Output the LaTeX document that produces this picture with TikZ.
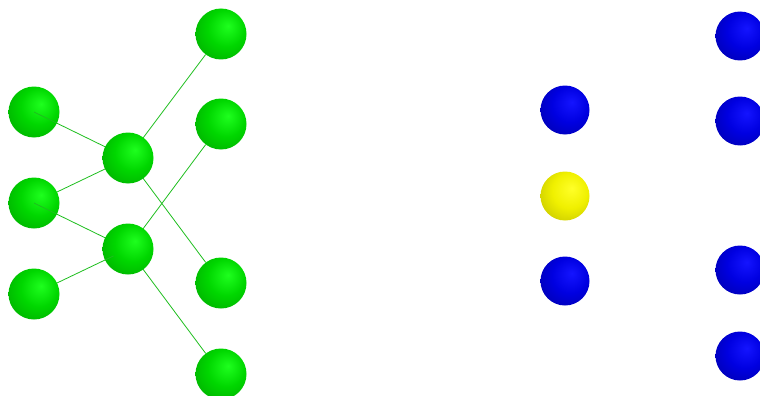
\documentclass[tikz,border=0pt]{standalone}
\usetikzlibrary{calc,backgrounds}
\pgfdeclarelayer{mid}
\pgfsetlayers{background,mid,main}
\definecolor{gA}{RGB}{30,255,30}
\definecolor{gB}{RGB}{0,215,0}
\definecolor{gC}{RGB}{0,160,0}
\definecolor{gD}{RGB}{0,110,0}
\definecolor{bA}{RGB}{20,20,255}
\definecolor{bB}{RGB}{0,0,225}
\definecolor{bC}{RGB}{0,0,160}
\definecolor{bD}{RGB}{0,0,100}
\definecolor{yA}{RGB}{255,255,40}
\definecolor{yB}{RGB}{240,240,0}
\definecolor{yC}{RGB}{185,185,0}
\definecolor{yD}{RGB}{130,130,0}
\definecolor{lineg}{RGB}{30,190,30}
\pgfdeclareradialshading{gball}{\pgfpoint{7bp}{8bp}}{color(0bp)=(gA); color(18bp)=(gB); color(42bp)=(gC); color(62bp)=(gD)}
\pgfdeclareradialshading{bball}{\pgfpoint{7bp}{8bp}}{color(0bp)=(bA); color(18bp)=(bB); color(42bp)=(bC); color(62bp)=(bD)}
\pgfdeclareradialshading{yball}{\pgfpoint{7bp}{8bp}}{color(0bp)=(yA); color(18bp)=(yB); color(42bp)=(yC); color(62bp)=(yD)}
\tikzset{
  gsph/.style={circle,inner sep=0pt,minimum size=51pt,shading=gball},
  bsph/.style={circle,inner sep=0pt,minimum size=49pt,shading=bball},
  ysph/.style={circle,inner sep=0pt,minimum size=49pt,shading=yball},
  gline/.style={draw=lineg,line width=0.8pt}
}
\begin{document}
\begin{tikzpicture}[x=1pt,y=-1pt]
\useasboundingbox (0,0) rectangle (760,396);
\begin{pgfonlayer}{background}
\node[gsph] (L1) at (34,112) {};
\node[gsph] (L2) at (34,203) {};
\node[gsph] (L3) at (34,294) {};
\end{pgfonlayer}
\node[gsph] (M1) at (128,158) {};
\node[gsph] (M2) at (128,249) {};
\node[gsph] (R1) at (221,34) {};
\node[gsph] (R2) at (221,124) {};
\node[gsph] (R3) at (221,283) {};
\node[gsph] (R4) at (221,374) {};
\node[bsph] (B1) at (565,110) {};
\node[ysph] (Y1) at (565,196) {};
\node[bsph] (B2) at (565,281) {};
\node[bsph] (C1) at (740,36) {};
\node[bsph] (C2) at (740,121) {};
\node[bsph] (C3) at (740,270) {};
\node[bsph] (C4) at (740,356) {};
\begin{pgfonlayer}{mid}
\draw[gline] (L1.center) -- (M1.center);
\draw[gline] (L2) -- (M1.center);
\draw[gline] (L2.center) -- (M2.center);
\draw[gline] (L3) -- (M2.center);
\draw[gline] (M1.center) -- (R1);
\draw[gline] (M1.center) -- (R3);
\draw[gline] (M2.center) -- (R2);
\draw[gline] (M2.center) -- (R4);
\end{pgfonlayer}
\draw[gline] ($(M2.center)!25.5pt!(L3.center)$) -- ($(M2.center)!16pt!(L3.center)$);
\end{tikzpicture}
\end{document}
